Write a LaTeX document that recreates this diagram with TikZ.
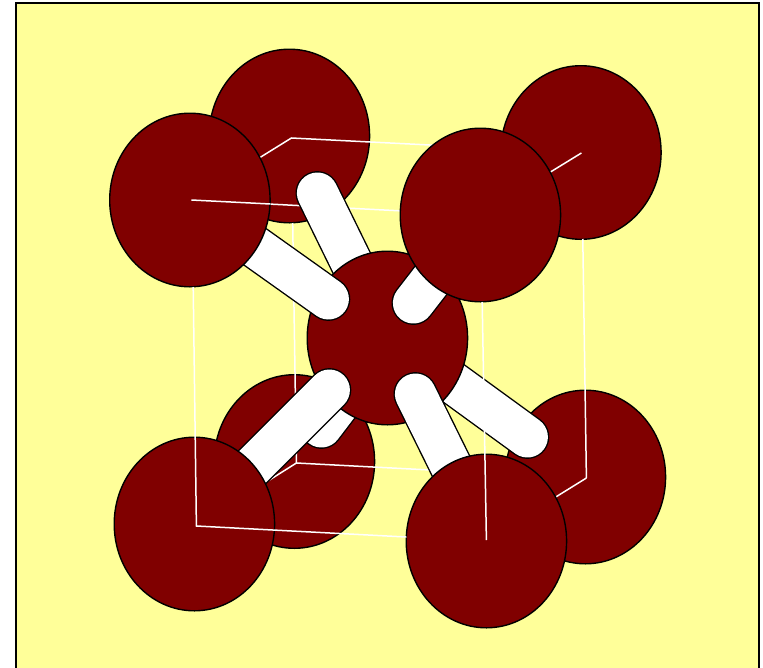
\documentclass[tikz,border=0pt]{standalone}
\definecolor{paper}{HTML}{FFFF99}
\definecolor{atomred}{HTML}{800000}
\tikzset{
  atomball/.style={fill=atomred,draw=black,line width=1.4pt},
  edgeline/.style={draw=white,line width=1.5pt},
  bondout/.style={draw=black,line width=43.8pt,line cap=round},
  bondin/.style={draw=white,line width=41pt,line cap=round},
}
\newcommand{\myatom}[2]{\path[atomball] (#1,#2) ellipse [x radius=80.2,y radius=86.8];}
\newcommand{\mybond}[4]{\path[bondout] (#1,#2) -- (#3,#4); \path[bondin] (#1,#2) -- (#3,#4);}
\begin{document}
\begin{tikzpicture}[x=1pt,y=-1pt]
\clip (0,0) rectangle (763,667);
\path[fill=paper,draw=black,line width=2.2pt] (16,3) rectangle (759,680);
\begin{scope}[xshift=-0.6pt]
% back atoms
\myatom{290}{136}
\myatom{581.5}{152.5}
\myatom{295}{461.5}
\myatom{586}{477}
% cube edges behind the bonds
\draw[edgeline] (192,200) -- (292,138) -- (450,146);
\draw[edgeline] (582,153) -- (481,215) -- (192,200);
\draw[edgeline] (293.3,223) -- (297,463) -- (450,471);
\draw[edgeline] (297,463) -- (197,526);
\draw[edgeline] (587,478) -- (487,540);
\draw[edgeline] (583.4,239) -- (587,478);
% bonds behind the centre atom
\mybond{318}{193}{367}{293}
\mybond{322}{427}{360}{377}
\mybond{528}{437}{440}{373}
\myatom{388}{338}
% bonds in front of the centre atom
\mybond{329}{299}{239}{235}
\mybond{414}{303}{445}{263}
\mybond{330}{390}{250}{470}
\mybond{416}{394}{456}{475}
% front atoms
\myatom{190.5}{200}
\myatom{481}{215}
\myatom{195}{524}
\myatom{487}{541}
% cube edges on top
\draw[edgeline] (192,200) -- (271,204);
\draw[edgeline] (193.8,287) -- (197,526) -- (407,537);
\draw[edgeline] (482.8,302) -- (487,540);
\end{scope}
\end{tikzpicture}
\end{document}
